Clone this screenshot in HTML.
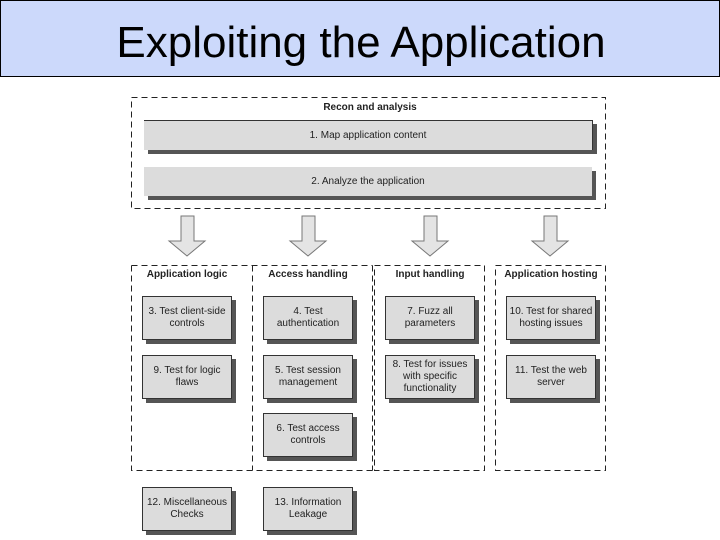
<!DOCTYPE html>
<html><head><meta charset="utf-8"><style>
body{margin:0;width:720px;height:540px;background:#fff;position:relative;overflow:hidden;font-family:"Liberation Sans",sans-serif}
.a{position:absolute}
.title{left:0;top:0;width:718px;height:75px;background:#ccd9fb;border:1px solid #000;}
.title span{position:absolute;left:0;width:720px;text-align:center;top:17px;font-size:44px;color:#000}
.b{position:absolute;background:#dcdcdc;border:1px solid #333;box-shadow:4px 4px 0 #555;font-size:10px;color:#222;display:flex;align-items:center;justify-content:center;text-align:center;line-height:12px}
.h{position:absolute;font-size:10px;font-weight:bold;color:#222;text-align:center}
</style></head><body>
<div class="a title"><span>Exploiting the Application</span></div>
<svg class="a" style="left:0;top:0" width="720" height="540">
<g fill="none" stroke="#222" stroke-width="1" stroke-dasharray="6,4">
<rect x="131.5" y="97.5" width="474" height="111"/>
<path d="M131.5 265.5H372.5M131.5 265.5V470.5H372.5M252.5 265.5V470.5M372.5 265.5V470.5"/>
<path d="M374.5 265.5H484.5V470.5H374.5Z"/>
<rect x="495.5" y="265.5" width="110" height="205"/>
</g>
<g fill="#e4e4e4" stroke="#777" stroke-width="1">
<path d="M181 216h13v25h11l-18 15l-18-15h12z"/>
<path d="M302 216h13v25h11l-18 15l-18-15h12z"/>
<path d="M424 216h13v25h11l-18 15l-18-15h12z"/>
<path d="M544 216h13v25h11l-18 15l-18-15h12z"/>
</g></svg>
<div class="h" style="left:300px;top:102px;width:140px">Recon and analysis</div>
<div class="b" style="left:144px;top:120px;width:448px;height:29px;border-left:none;border-bottom:none">1. Map application content</div>
<div class="b" style="left:144px;top:167px;width:448px;height:29px;border:none">2. Analyze the application</div>
<div class="h" style="left:131px;top:269px;width:112px">Application logic</div>
<div class="h" style="left:252px;top:269px;width:112px">Access handling</div>
<div class="h" style="left:374px;top:269px;width:112px">Input handling</div>
<div class="h" style="left:495px;top:269px;width:112px">Application hosting</div>
<div class="b" style="left:142px;top:296px;width:88px;height:42px">3. Test client-side<br>controls</div>
<div class="b" style="left:142px;top:355px;width:88px;height:42px">9. Test for logic<br>flaws</div>
<div class="b" style="left:263px;top:296px;width:88px;height:42px">4. Test<br>authentication</div>
<div class="b" style="left:263px;top:355px;width:88px;height:42px">5. Test session<br>management</div>
<div class="b" style="left:263px;top:413px;width:88px;height:42px">6. Test access<br>controls</div>
<div class="b" style="left:385px;top:296px;width:88px;height:42px">7. Fuzz all<br>parameters</div>
<div class="b" style="left:385px;top:355px;width:88px;height:42px">8. Test for issues<br>with specific<br>functionality</div>
<div class="b" style="left:506px;top:296px;width:88px;height:42px">10. Test for shared<br>hosting issues</div>
<div class="b" style="left:506px;top:355px;width:88px;height:42px">11. Test the web<br>server</div>
<div class="b" style="left:142px;top:487px;width:88px;height:42px">12. Miscellaneous<br>Checks</div>
<div class="b" style="left:263px;top:487px;width:88px;height:42px">13. Information<br>Leakage</div>
</body></html>
